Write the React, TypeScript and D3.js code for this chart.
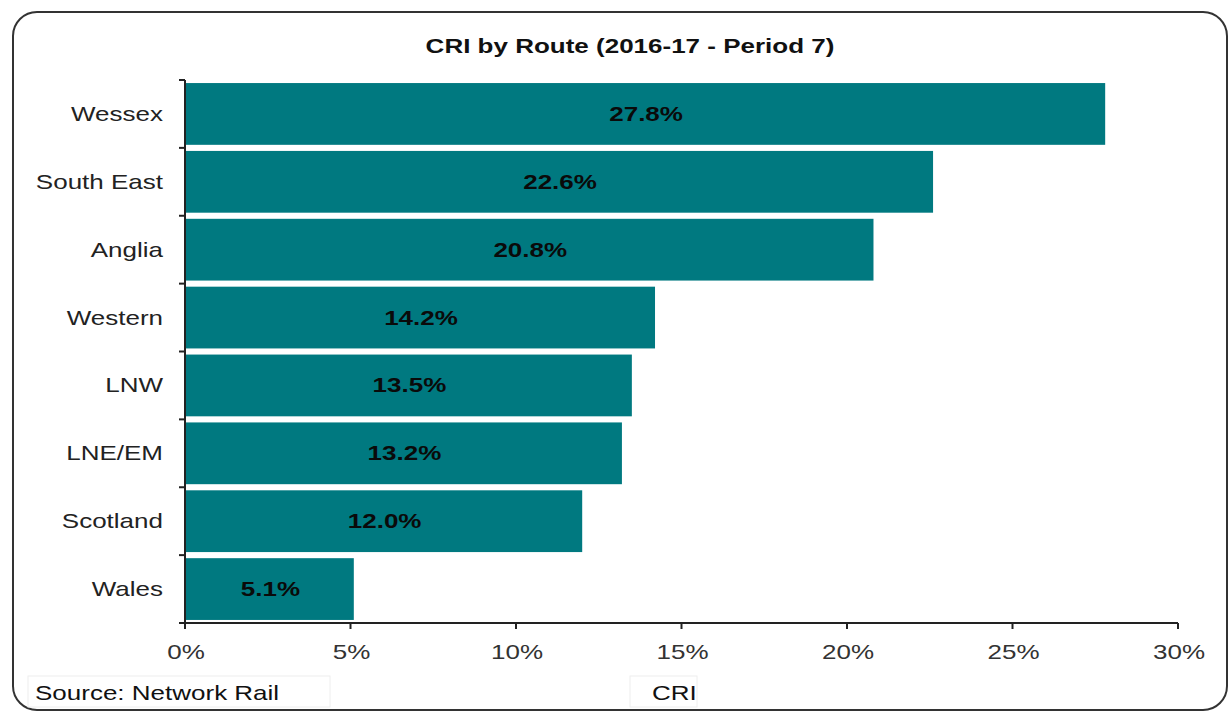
import * as d3 from "d3";
import type { ReactNode } from "react";

const routes = ["Wessex", "South East", "Anglia", "Western", "LNW", "LNE/EM", "Scotland", "Wales"];
const cri = [27.8, 22.6, 20.8, 14.2, 13.5, 13.2, 12.0, 5.1];
const xTicks = [0, 5, 10, 15, 20, 25, 30];

const W = 1230;
const H = 715;
const font = "'Liberation Sans', Arial, sans-serif";
const barColor = "#007980";
// the source picture is stretched sideways, so glyphs get a horizontal scale
const STRETCH = 1.3;

interface TProps {
  x: number;
  y: number;
  anchor?: "start" | "middle" | "end";
  size?: number;
  bold?: boolean;
  fill?: string;
  dy?: string;
  children: ReactNode;
}

function T({ x, y, anchor = "start", size = 20, bold = false, fill = "#222", dy, children }: TProps) {
  return (
    <g transform={`translate(${x},${y}) scale(${STRETCH},1)`}>
      <text textAnchor={anchor} fontSize={size} fontWeight={bold ? "bold" : "normal"} fill={fill} dy={dy}>
        {children}
      </text>
    </g>
  );
}

export default function App() {
  const x = d3.scaleLinear().domain([0, 30]).range([185, 1178]);
  const y = d3.scaleBand<string>().domain(routes).range([80, 623]).paddingInner(0.09).paddingOuter(0.045);
  const step = y.step();
  const bandEdges = d3.range(routes.length + 1).map((i) => 80 + i * step);

  return (
    <svg
      width={W}
      height={H}
      style={{ position: "absolute", left: 0, top: 0, background: "#fff" }}
      fontFamily={font}
    >
      {/* frame */}
      <rect x={13} y={12} width={1214} height={698} rx={24} fill="none" stroke="#333" strokeWidth={2} />

      <T x={630} y={53} anchor="middle" bold fill="#111">
        CRI by Route (2016-17 - Period 7)
      </T>

      {/* bars */}
      {routes.map((r, i) => (
        <g key={r}>
          <rect x={x(0)} y={y(r)} width={x(cri[i]) - x(0)} height={y.bandwidth()} fill={barColor} />
          <T
            x={(x(0) + x(cri[i])) / 2 + 1}
            y={(y(r) ?? 0) + y.bandwidth() / 2}
            dy="0.35em"
            anchor="middle"
            bold
            fill="#0a0a0a"
          >
            {cri[i].toFixed(1)}%
          </T>
          <T x={163} y={(y(r) ?? 0) + y.bandwidth() / 2} dy="0.35em" anchor="end">
            {r}
          </T>
        </g>
      ))}

      {/* y axis */}
      <line x1={x(0)} x2={x(0)} y1={80} y2={623} stroke="#222" strokeWidth={2} />
      {bandEdges.map((e, i) => (
        <line key={i} x1={x(0) - 6} x2={x(0)} y1={e} y2={e} stroke="#222" strokeWidth={2} />
      ))}

      {/* x axis */}
      <line x1={x(0)} x2={x(30)} y1={623} y2={623} stroke="#222" strokeWidth={2} />
      {xTicks.map((t) => (
        <g key={t}>
          <line x1={x(t)} x2={x(t)} y1={623} y2={629} stroke="#222" strokeWidth={2} />
          <T x={x(t) + 1} y={659} anchor="middle" fill="#333">
            {t}%
          </T>
        </g>
      ))}

      {/* footer */}
      <rect x={28} y={676} width={302} height={31} fill="none" stroke="#eee" strokeWidth={1} />
      <T x={35} y={700} fill="#111">
        Source: Network Rail
      </T>
      <rect x={630} y={676} width={67} height={31} fill="none" stroke="#eee" strokeWidth={1} />
      <T x={652} y={700} fill="#111">
        CRI
      </T>
    </svg>
  );
}
